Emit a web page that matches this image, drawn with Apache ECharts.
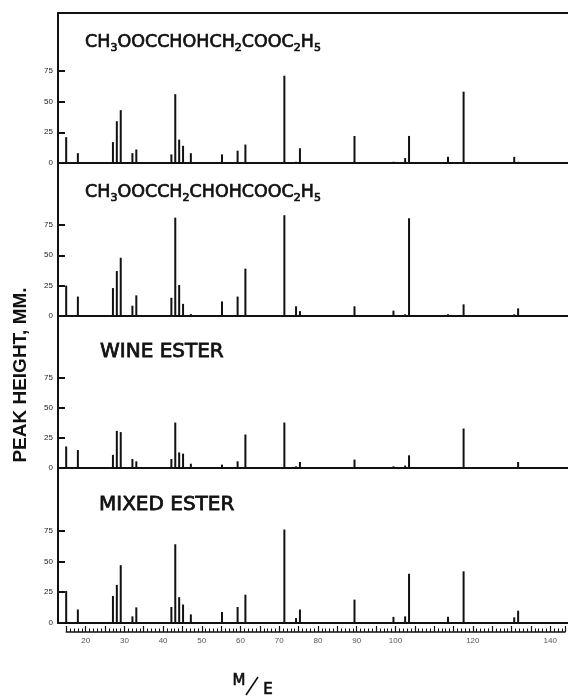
<!DOCTYPE html>
<html>
<head>
<meta charset="utf-8">
<script src="https://cdn.jsdelivr.net/npm/echarts@6/dist/echarts.min.js"></script>
<style>
    html, body { margin: 0; padding: 0; background: #fff; }
    #chart { width: 568px; height: 697px; }
</style>
</head>
<body>
<div id="chart"></div>
<script>
// m/e values shared by all four spectra
var MASSES = [15, 18, 27, 28, 29, 32, 33, 42, 43, 44, 45, 47, 55, 59, 61, 71, 74, 75, 89, 99, 102, 103, 113, 117, 130, 131];

// peak heights, mm
var PEAKS_MALATE_A = [21, 8, 17, 34, 43, 8, 11, 7, 56, 19, 14, 8, 7, 10, 15, 71, 1, 12, 22, 1, 4, 22, 5, 58, 5, 1];
var PEAKS_MALATE_B = [25, 16, 23, 37, 48, 8.5, 17, 15, 81, 25.5, 10, 1.6, 12, 16, 39, 83, 8, 4, 8, 4.4, 1.4, 80.5, 1.4, 9.6, 1.4, 6.3];
var PEAKS_WINE = [18, 15, 11, 31, 30, 7.5, 5.6, 7.5, 38, 13, 12, 3.6, 2.8, 5.6, 28, 38, 1.4, 5, 7, 1.4, 2, 10.6, 0.6, 33, 0.5, 5];
var PEAKS_MIXED = [26, 11, 22, 31, 47, 5.4, 12.7, 13, 64, 21, 15, 7, 9, 13, 23, 76, 4, 11, 19, 5, 5.4, 40, 5, 42, 4.6, 10];

var Y_TICKS = [0, 25, 50, 75];
var X_LABELS = [20, 30, 40, 50, 60, 70, 80, 90, 100, 120, 140];

var SPECTRA = [PEAKS_MALATE_A, PEAKS_MALATE_B, PEAKS_WINE, PEAKS_MIXED];

// layout
var PANEL_TOP = [13, 163, 316, 468];
var PANEL_H = [150, 153, 152, 155];
var PANEL_YMAX = [122, 126, 127, 126];
var X_MIN = 12.9;
var X_MAX = 143.8;
var INK = '#111';

var chart = echarts.init(document.getElementById('chart'));

var grids = [];
var xAxes = [];
var yAxes = [];
var series = [];

for (var i = 0; i < 4; i++) {
    grids.push({ left: 58, right: 0, top: PANEL_TOP[i], height: PANEL_H[i] });

    xAxes.push({
        type: 'value', gridIndex: i, min: X_MIN, max: X_MAX,
        axisLine: { show: true, lineStyle: { color: INK, width: 2 } },
        axisTick: { show: false },
        axisLabel: { show: false },
        splitLine: { show: false }
    });

    yAxes.push({
        type: 'value', gridIndex: i, min: 0, max: PANEL_YMAX[i],
        axisLine: { show: true, lineStyle: { color: INK, width: 2 } },
        axisTick: { show: true, inside: true, length: 7, customValues: Y_TICKS, lineStyle: { color: INK, width: 2 } },
        axisLabel: { customValues: Y_TICKS, fontSize: 8, margin: 5, color: '#222', fontFamily: 'Liberation Sans' },
        splitLine: { show: false }
    });

    series.push({
        type: 'bar',
        xAxisIndex: i,
        yAxisIndex: i,
        barWidth: 2,
        itemStyle: { color: INK },
        data: MASSES.map(function (m, j) { return [m, SPECTRA[i][j]]; })
    });
}

// the m/e ruler under the last panel
grids.push({ left: 66.3, right: 0, top: 622, height: 10 });
xAxes.push({
    type: 'value', gridIndex: 4, min: 15, max: X_MAX, interval: 5,
    axisLine: { show: true, lineStyle: { color: INK, width: 1.5 } },
    axisTick: { show: true, inside: true, length: 6, lineStyle: { color: INK, width: 1.2 } },
    minorTick: { show: true, splitNumber: 5, length: 3.5, lineStyle: { color: INK, width: 1 } },
    axisLabel: {
        fontSize: 8, margin: 5, color: '#555', fontFamily: 'Liberation Sans',
        formatter: function (v) { return X_LABELS.indexOf(v) >= 0 ? String(v) : ''; }
    },
    splitLine: { show: false }
});
yAxes.push({ type: 'value', gridIndex: 4, show: false });

// top border of the first panel
xAxes.push({
    type: 'value', gridIndex: 0, position: 'top', min: X_MIN, max: X_MAX,
    axisLine: { show: true, lineStyle: { color: INK, width: 2 } },
    axisTick: { show: false }, axisLabel: { show: false }, splitLine: { show: false }
});

// a thin outline in the same colour makes the lettering a bit heavier
var richSub = {
    a: { fontSize: 17.5, lineHeight: 24, fontWeight: 'normal', color: INK, fontFamily: 'DejaVu Sans', textBorderColor: INK, textBorderWidth: 0.7 },
    b: { fontSize: 20, lineHeight: 24, fontWeight: 'normal', color: INK, fontFamily: 'DejaVu Sans', textBorderColor: INK, textBorderWidth: 0.8 },
    s: { fontSize: 11, lineHeight: 12, fontWeight: 'normal', verticalAlign: 'bottom', color: INK, fontFamily: 'DejaVu Sans', textBorderColor: INK, textBorderWidth: 0.7 }
};

var titles = [
    { left: 85, top: 30, text: '{a|CH}{s|3}{a|OOCCHOHCH}{s|2}{a|COOC}{s|2}{a|H}{s|5}' },
    { left: 85, top: 180, text: '{a|CH}{s|3}{a|OOCCH}{s|2}{a|CHOHCOOC}{s|2}{a|H}{s|5}' },
    { left: 100, top: 340, text: '{b|WINE ESTER}' },
    { left: 99, top: 493, text: '{b|MIXED ESTER}' }
].map(function (t) {
    return { left: t.left, top: t.top, text: t.text, padding: 0, textStyle: { fontWeight: 'normal', rich: richSub } };
});

chart.setOption({
    animation: false,
    backgroundColor: '#fff',
    title: titles,
    grid: grids,
    xAxis: xAxes,
    yAxis: yAxes,
    series: series,
    graphic: [
        {
            type: 'text', x: 21, y: 375, rotation: Math.PI / 2,
            style: { text: 'PEAK HEIGHT, MM.', font: 'bold 19px "Liberation Sans"', fill: INK, align: 'center', verticalAlign: 'middle' }
        },
        { type: 'text', x: 239, y: 681, style: { text: 'M', font: '15px "DejaVu Sans"', fill: INK, stroke: INK, lineWidth: 0.6, align: 'center', verticalAlign: 'middle' } },
        { type: 'line', shape: { x1: 246, y1: 695, x2: 258, y2: 677 }, style: { stroke: INK, lineWidth: 1.6 } },
        { type: 'text', x: 268, y: 690, style: { text: 'E', font: '15px "DejaVu Sans"', fill: INK, stroke: INK, lineWidth: 0.6, align: 'center', verticalAlign: 'middle' } }
    ]
});
</script>
</body>
</html>
